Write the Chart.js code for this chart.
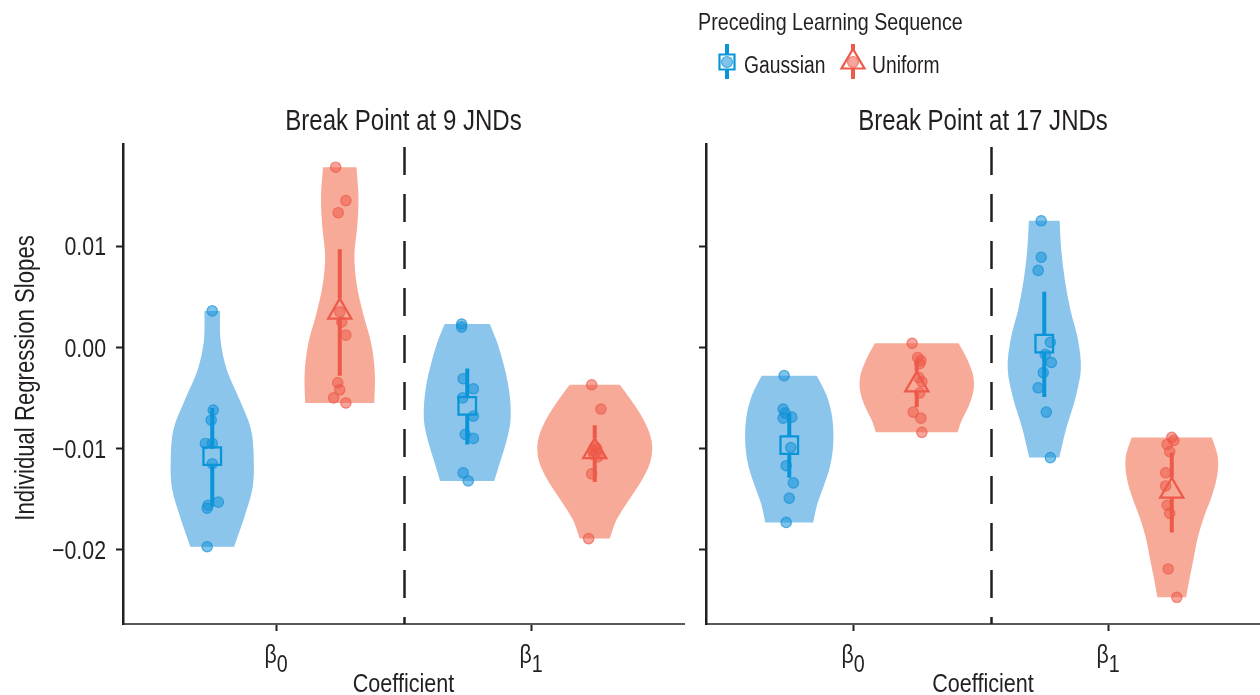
<!DOCTYPE html>
<html>
<head>
<meta charset="utf-8">
<script src="https://cdn.jsdelivr.net/npm/chart.js@4.4.1/dist/chart.umd.min.js"></script>
<style>
  html, body { margin: 0; padding: 0; background: #ffffff; overflow: hidden; }
  #figure { position: relative; width: 1260px; height: 695px; }
  .panel { position: absolute; top: 0; }
</style>
</head>
<body>
<div id="figure">
  <div class="panel" style="left:0;width:690px;height:695px"><canvas id="bp9" width="690" height="695"></canvas></div>
  <div class="panel" style="left:690px;width:570px;height:695px"><canvas id="bp17" width="570" height="695"></canvas></div>
</div>
<script>
// ---- categories and labels ----
const coefficients = ['β0', 'β1'];
const sequences = ['Gaussian', 'Uniform'];
const panelTitles = ['Break Point at 9 JNDs', 'Break Point at 17 JNDs'];
const yTicks = [-0.02, -0.01, 0.00, 0.01];
const dividerAt = [1.5, 1.54];

// ---- individual regression slopes, break point at 9 JNDs ----
const bp9GaussB0 = [0.0036, -0.0062, -0.0072, -0.0095, -0.0095, -0.0115, -0.0153, -0.0156, -0.0159, -0.0197];
const bp9GaussB1 = [0.0023, 0.0020, -0.0031, -0.0041, -0.0050, -0.0068, -0.0086, -0.0090, -0.0124, -0.0132];
const bp9UnifB0 = [0.0178, 0.0145, 0.0133, 0.0035, 0.0025, 0.0012, -0.0035, -0.0042, -0.0050, -0.0055];
const bp9UnifB1 = [-0.0037, -0.0061, -0.0098, -0.0100, -0.0102, -0.0104, -0.0106, -0.0108, -0.0125, -0.0189];
// horizontal jitter of each point, in category units
const bp9GaussB0Jitter = [0, 0.004, -0.004, -0.027, 0, 0, 0.024, -0.016, -0.02, -0.02];
const bp9GaussB1Jitter = [-0.022, -0.022, -0.016, 0.024, -0.018, 0.024, -0.008, 0.024, -0.016, 0.004];
const bp9UnifB0Jitter = [-0.016, 0.024, -0.006, 0, 0.008, 0.024, -0.008, 0, -0.024, 0.024];
const bp9UnifB1Jitter = [-0.012, 0.024, 0, 0.008, -0.008, 0.004, -0.004, 0.012, -0.012, -0.024];
// violin density, relative to the widest violin of the panel,
// at nine evenly spaced levels from the highest to the lowest slope
const bp9GaussB0Density = [0.136, 0.144, 0.252, 0.47, 0.67, 0.72, 0.70, 0.556, 0.38];
const bp9GaussB1Density = [0.391, 0.527, 0.626, 0.704, 0.748, 0.748, 0.678, 0.574, 0.47];
const bp9UnifB0Density = [0.29, 0.325, 0.304, 0.254, 0.296, 0.409, 0.548, 0.609, 0.60];
const bp9UnifB1Density = [0.435, 0.678, 0.878, 0.991, 0.965, 0.809, 0.591, 0.383, 0.261];

// ---- individual regression slopes, break point at 17 JNDs ----
const bp17GaussB0 = [-0.0028, -0.0061, -0.0065, -0.0070, -0.0069, -0.0099, -0.0117, -0.0134, -0.0149, -0.0173];
const bp17GaussB1 = [0.0125, 0.0089, 0.0076, 0.0005, -0.0007, -0.0015, -0.0025, -0.0040, -0.0064, -0.0109];
const bp17UnifB0 = [0.0004, -0.0010, -0.0013, -0.0016, -0.0030, -0.0034, -0.0045, -0.0064, -0.0070, -0.0084];
const bp17UnifB1 = [-0.0089, -0.0092, -0.0096, -0.0103, -0.0124, -0.0137, -0.0156, -0.0164, -0.0219, -0.0247];
const bp17GaussB0Jitter = [-0.02, -0.024, -0.016, -0.024, 0.01, 0.006, -0.012, 0.016, 0, -0.012];
const bp17GaussB1Jitter = [-0.012, -0.012, -0.024, 0.024, 0.004, 0.028, -0.004, -0.024, 0.008, 0.024];
const bp17UnifB0Jitter = [-0.018, 0.004, 0.016, 0.012, 0.008, 0.02, 0.012, -0.014, 0.016, 0.02];
const bp17UnifB1Jitter = [0, 0.008, -0.018, -0.008, -0.024, -0.024, -0.018, -0.008, -0.014, 0.02];
const bp17GaussB0Density = [0.478, 0.638, 0.730, 0.765, 0.757, 0.704, 0.60, 0.487, 0.417];
const bp17GaussB1Density = [0.266, 0.296, 0.357, 0.452, 0.583, 0.635, 0.539, 0.383, 0.261];
const bp17UnifB0Density = [0.725, 0.835, 0.922, 0.983, 0.991, 0.948, 0.870, 0.774, 0.708];
const bp17UnifB1Density = [0.696, 0.80, 0.783, 0.687, 0.557, 0.452, 0.383, 0.313, 0.249];

// ---- group means with interval bounds (β0, β1) ----
const bp9GaussMean = [-0.01075, -0.00578];
const bp9GaussLow = [-0.0157, -0.0096];
const bp9GaussHigh = [-0.0060, -0.0021];
const bp9UnifMean = [0.0035, -0.0103];
const bp9UnifLow = [-0.0028, -0.0133];
const bp9UnifHigh = [0.0097, -0.0077];
const bp17GaussMean = [-0.00967, 0.00036];
const bp17GaussLow = [-0.0129, -0.0049];
const bp17GaussHigh = [-0.0065, 0.0055];
const bp17UnifMean = [-0.0037, -0.0142];
const bp17UnifLow = [-0.0059, -0.0183];
const bp17UnifHigh = [-0.0013, -0.0104];

// ---- styling ----
const FONT = "'Liberation Sans', Arial, sans-serif";
const NARROW = 0.82;      // horizontal squeeze giving a condensed face
const INK = '#231f20';
const palette = [
  { line: '#0b95d9', violin: 'rgb(139,197,235)', pt: 'rgba(20,145,215,0.55)', ptEdge: 'rgba(20,145,215,0.7)', marker: 'rect', radius: 12.4 },
  { line: '#ee5a4a', violin: 'rgb(247,170,152)', pt: 'rgba(238,90,74,0.55)', ptEdge: 'rgba(238,90,74,0.7)', marker: 'triangle', radius: 13.3 }
];
const DODGE = 0.25;       // offset of each sequence from the coefficient position
const HALF_WIDTH = 0.226; // half-width of a violin at relative density 1, category units

function narrowText(ctx, str, x, y, size, align, rotation) {
  ctx.save();
  ctx.translate(x, y);
  if (rotation) ctx.rotate(rotation);
  ctx.scale(NARROW, 1);
  ctx.font = `${size}px ${FONT}`;
  ctx.textAlign = align;
  ctx.textBaseline = 'alphabetic';
  ctx.fillStyle = INK;
  ctx.fillText(str, 0, 0);
  ctx.restore();
}

function narrowWidth(ctx, str, size) {
  ctx.save();
  ctx.font = `${size}px ${FONT}`;
  const w = ctx.measureText(str).width * NARROW;
  ctx.restore();
  return w;
}

// smooth path through a list of pixel points (Catmull-Rom as cubic Béziers)
function smoothThrough(ctx, pts) {
  for (let i = 0; i < pts.length - 1; i++) {
    const p0 = pts[Math.max(i - 1, 0)], p1 = pts[i], p2 = pts[i + 1], p3 = pts[Math.min(i + 2, pts.length - 1)];
    ctx.bezierCurveTo(
      p1[0] + (p2[0] - p0[0]) / 6, p1[1] + (p2[1] - p0[1]) / 6,
      p2[0] - (p3[0] - p1[0]) / 6, p2[1] - (p3[1] - p1[1]) / 6,
      p2[0], p2[1]);
  }
}

function buildPanel(cfg) {
  const groups = [];
  cfg.series.forEach((ser, si) => {
    ser.values.forEach((vals, ci) => {
      groups.push({ seq: si, center: ci + 1 + (si ? DODGE : -DODGE), values: vals, jitter: ser.jitter[ci], density: ser.density[ci] });
    });
  });

  const pointSets = cfg.series.map((ser, si) => ({
    label: sequences[si],
    data: groups.filter(g => g.seq === si).flatMap(g => g.values.map((v, k) => ({ x: g.center + g.jitter[k], y: v }))),
    pointRadius: 5.2,
    pointBackgroundColor: palette[si].pt,
    pointBorderColor: palette[si].ptEdge,
    pointBorderWidth: 1.2,
    showLine: false,
    order: 3
  }));
  const meanSets = cfg.series.map((ser, si) => ({
    label: sequences[si] + ' mean',
    role: 'mean',
    seq: si,
    data: ser.mean.map((m, ci) => ({ x: ci + 1 + (si ? DODGE : -DODGE), y: m })),
    pointStyle: palette[si].marker,
    pointRadius: palette[si].radius,
    pointBackgroundColor: 'rgba(0,0,0,0)',
    pointBorderColor: palette[si].line,
    pointBorderWidth: 2.3,
    showLine: false,
    order: 1
  }));

  const panelPlugin = {
    id: 'violinPanel',
    beforeDatasetsDraw(chart) {
      const { ctx, chartArea, scales: { x, y } } = chart;
      ctx.save();
      // separator between the two coefficients
      const dx = Math.round(x.getPixelForValue(cfg.divider)) + 0.5;
      ctx.strokeStyle = INK;
      ctx.lineWidth = 2.5;
      ctx.setLineDash([28, 19]);
      ctx.beginPath();
      ctx.moveTo(dx, chartArea.top + 3);
      ctx.lineTo(dx, chartArea.bottom);
      ctx.stroke();
      ctx.setLineDash([]);
      // violins
      groups.forEach(g => {
        const hi = Math.max(...g.values), lo = Math.min(...g.values);
        const n = g.density.length;
        const right = g.density.map((d, k) => [x.getPixelForValue(g.center + HALF_WIDTH * d), y.getPixelForValue(hi - (hi - lo) * k / (n - 1))]);
        const left = g.density.map((d, k) => [x.getPixelForValue(g.center - HALF_WIDTH * d), y.getPixelForValue(hi - (hi - lo) * k / (n - 1))]).reverse();
        ctx.beginPath();
        ctx.moveTo(right[0][0], right[0][1]);
        smoothThrough(ctx, right);
        ctx.lineTo(left[0][0], left[0][1]);
        smoothThrough(ctx, left);
        ctx.closePath();
        ctx.fillStyle = palette[g.seq].violin;
        ctx.fill();
      });
      ctx.restore();
    },
    // interval bars, drawn just before the mean markers of the same sequence
    beforeDatasetDraw(chart, args) {
      const ds = chart.data.datasets[args.index];
      if (ds.role !== 'mean') return;
      const { ctx, scales: { x, y } } = chart;
      const ser = cfg.series[ds.seq];
      const st = palette[ds.seq];
      ctx.save();
      ctx.strokeStyle = st.line;
      ctx.lineWidth = 4;
      ser.mean.forEach((m, ci) => {
        const px = x.getPixelForValue(ci + 1 + (ds.seq ? DODGE : -DODGE));
        const pm = y.getPixelForValue(m);
        const gapTop = st.marker === 'rect' ? st.radius * Math.SQRT1_2 : st.radius;
        const gapBottom = st.marker === 'rect' ? st.radius * Math.SQRT1_2 : st.radius / 2;
        ctx.beginPath();
        ctx.moveTo(px, y.getPixelForValue(ser.high[ci]));
        ctx.lineTo(px, pm - gapTop);
        ctx.moveTo(px, pm + gapBottom);
        ctx.lineTo(px, y.getPixelForValue(ser.low[ci]));
        ctx.stroke();
      });
      ctx.restore();
    },
    afterDraw(chart) {
      const { ctx, chartArea, scales: { x, y } } = chart;
      const mid = (chartArea.left + chartArea.right) / 2;
      narrowText(ctx, cfg.title, mid, 130, 29.3, 'center');
      narrowText(ctx, 'Coefficient', mid, 692, 26.3, 'center');
      // coefficient labels with subscripts
      x.ticks.forEach(t => {
        const label = coefficients[Math.round(t.value) - 1];
        const px = x.getPixelForValue(t.value);
        const w1 = narrowWidth(ctx, label[0], 26);
        const w2 = narrowWidth(ctx, label.slice(1), 24);
        const left = px - (w1 + w2) / 2;
        narrowText(ctx, label[0], left, 663, 26, 'left');
        narrowText(ctx, label.slice(1), left + w1, 672, 24, 'left');
      });
      if (cfg.showYLabels) {
        y.ticks.forEach(t => {
          const v = t.value;
          const txt = (v < 0 ? '\u2212' : '') + Math.abs(v).toFixed(2);
          narrowText(ctx, txt, chartArea.left - 17, y.getPixelForValue(v) + 9.3, 26, 'right');
        });
        narrowText(ctx, 'Individual Regression Slopes', 34, 378, 27, 'center', -Math.PI / 2);
      }
      if (cfg.legend) cfg.legend(ctx);
    }
  };

  return new Chart(document.getElementById(cfg.canvasId), {
    type: 'scatter',
    data: { datasets: [...pointSets, ...meanSets] },
    options: {
      responsive: false,
      animation: false,
      events: [],
      layout: { autoPadding: false, padding: { top: 144, right: cfg.padRight, bottom: 0, left: 0 } },
      plugins: { legend: { display: false }, tooltip: { enabled: false }, title: { display: false } },
      scales: {
        x: {
          type: 'linear',
          min: cfg.xMin,
          max: cfg.xMax,
          afterBuildTicks: s => { s.ticks = coefficients.map((_, i) => ({ value: i + 1 })); },
          afterFit: s => { s.height = 71; },
          ticks: { display: false },
          grid: { display: true, drawOnChartArea: false, drawTicks: true, tickLength: 7, tickWidth: 2, tickColor: INK },
          border: { display: true, color: '#5a5a5a', width: 2 },
          title: { display: false }
        },
        y: {
          type: 'linear',
          min: -0.02734,
          max: 0.02009,
          afterBuildTicks: s => { s.ticks = yTicks.map(v => ({ value: v })); },
          afterFit: s => { s.width = cfg.yAxisWidth; },
          ticks: { display: false },
          grid: { display: true, drawOnChartArea: false, drawTicks: true, tickLength: 7, tickWidth: 2, tickColor: INK },
          border: { display: true, color: INK, width: 2.5 },
          title: { display: false }
        }
      }
    },
    plugins: [panelPlugin]
  });
}

// legend for the two learning sequences, placed above the right panel
function drawLegend(ctx) {
  const ox = -690;
  narrowText(ctx, 'Preceding Learning Sequence', 698 + ox, 30, 24, 'left');
  const keys = [{ x: 727 + ox, text: 744 + ox }, { x: 853 + ox, text: 872 + ox }];
  keys.forEach((k, si) => {
    const st = palette[si];
    ctx.save();
    ctx.strokeStyle = st.line;
    ctx.lineWidth = 4;
    ctx.beginPath();
    if (si === 0) {
      ctx.moveTo(k.x, 44); ctx.lineTo(k.x, 54);
      ctx.moveTo(k.x, 70); ctx.lineTo(k.x, 79);
    } else {
      ctx.moveTo(k.x, 44); ctx.lineTo(k.x, 50);
      ctx.moveTo(k.x, 68); ctx.lineTo(k.x, 79);
    }
    ctx.stroke();
    ctx.fillStyle = st.pt;
    ctx.strokeStyle = st.ptEdge;
    ctx.lineWidth = 1.2;
    ctx.beginPath();
    ctx.arc(k.x, 62, 5.5, 0, Math.PI * 2);
    ctx.fill();
    ctx.stroke();
    ctx.strokeStyle = st.line;
    ctx.lineWidth = 2.2;
    ctx.beginPath();
    if (si === 0) {
      ctx.rect(k.x - 7.5, 54.5, 15, 15);
    } else {
      ctx.moveTo(k.x, 49);
      ctx.lineTo(k.x + 11.5, 68.5);
      ctx.lineTo(k.x - 11.5, 68.5);
      ctx.closePath();
    }
    ctx.stroke();
    ctx.restore();
    narrowText(ctx, sequences[si], k.text, 73, 23.5, 'left');
  });
}

buildPanel({
  canvasId: 'bp9', title: panelTitles[0], divider: dividerAt[0],
  xMin: 0.4, xMax: 2.6, yAxisWidth: 123, padRight: 6, showYLabels: true,
  series: [
    { values: [bp9GaussB0, bp9GaussB1], jitter: [bp9GaussB0Jitter, bp9GaussB1Jitter], density: [bp9GaussB0Density, bp9GaussB1Density], mean: bp9GaussMean, low: bp9GaussLow, high: bp9GaussHigh },
    { values: [bp9UnifB0, bp9UnifB1], jitter: [bp9UnifB0Jitter, bp9UnifB1Jitter], density: [bp9UnifB0Density, bp9UnifB1Density], mean: bp9UnifMean, low: bp9UnifLow, high: bp9UnifHigh }
  ]
});

buildPanel({
  canvasId: 'bp17', title: panelTitles[1], divider: dividerAt[1],
  xMin: 0.4235, xMax: 2.596, yAxisWidth: 16, padRight: 0, showYLabels: false, legend: drawLegend,
  series: [
    { values: [bp17GaussB0, bp17GaussB1], jitter: [bp17GaussB0Jitter, bp17GaussB1Jitter], density: [bp17GaussB0Density, bp17GaussB1Density], mean: bp17GaussMean, low: bp17GaussLow, high: bp17GaussHigh },
    { values: [bp17UnifB0, bp17UnifB1], jitter: [bp17UnifB0Jitter, bp17UnifB1Jitter], density: [bp17UnifB0Density, bp17UnifB1Density], mean: bp17UnifMean, low: bp17UnifLow, high: bp17UnifHigh }
  ]
});
</script>
</body>
</html>
